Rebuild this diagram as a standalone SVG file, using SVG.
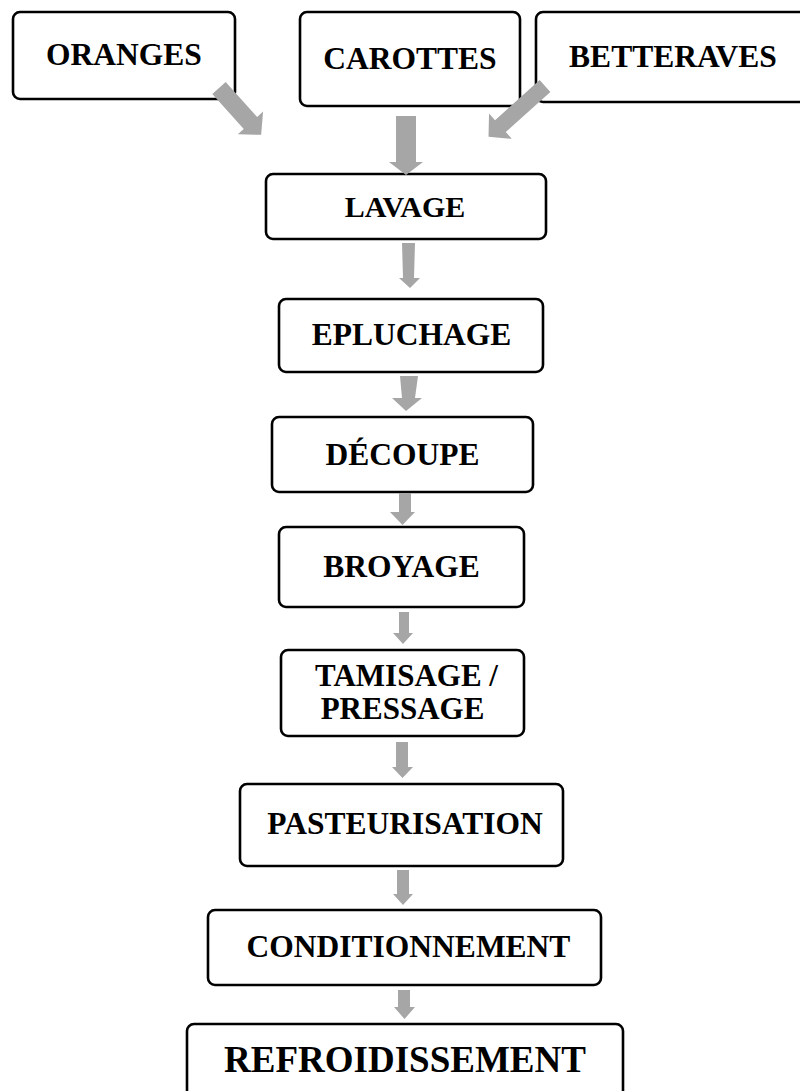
<svg xmlns="http://www.w3.org/2000/svg" width="800" height="1091" viewBox="0 0 800 1091">
<style>
.box{fill:#fff;stroke:#000;stroke-width:2.6}
.t{font-family:"Liberation Serif","Times New Roman",serif;font-weight:bold;font-size:31.5px;fill:#000;text-anchor:middle}
.arr{fill:#a6a6a6;stroke:none}
</style>
<rect width="800" height="1091" fill="#fff"/>
<g id="oranges"><rect class="box" x="13" y="12" width="222" height="87" rx="7"/><text class="t" x="124" y="65">ORANGES</text></g>
<g id="carottes"><rect class="box" x="300" y="12" width="220" height="94" rx="7"/><text class="t" x="410" y="69">CAROTTES</text></g>
<g id="betteraves"><rect class="box" x="536" y="12" width="280" height="90" rx="7"/><text class="t" x="673" y="67">BETTERAVES</text></g>
<g id="lavage"><rect class="box" x="266" y="174" width="280" height="65" rx="7"/><text class="t" x="405" y="217" style="font-size:30px">LAVAGE</text></g>
<g id="epluchage"><rect class="box" x="279" y="299" width="264" height="73" rx="7"/><text class="t" x="411.5" y="345">EPLUCHAGE</text></g>
<g id="decoupe"><rect class="box" x="272" y="417" width="261" height="75" rx="7"/><text class="t" x="402.5" y="465">DÉCOUPE</text></g>
<g id="broyage"><rect class="box" x="279" y="527" width="245" height="80" rx="7"/><text class="t" x="401.5" y="577">BROYAGE</text></g>
<g id="tamisage"><rect class="box" x="281" y="650" width="243" height="86" rx="7"/><text class="t" x="406.5" y="686" style="font-size:31px">TAMISAGE /</text><text class="t" x="402.5" y="719" style="font-size:31px">PRESSAGE</text></g>
<g id="pasteurisation"><rect class="box" x="240" y="784" width="323" height="82" rx="7"/><text class="t" x="405" y="834">PASTEURISATION</text></g>
<g id="conditionnement"><rect class="box" x="208" y="910" width="393" height="75" rx="7"/><text class="t" x="408.5" y="957">CONDITIONNEMENT</text></g>
<g id="refroidissement"><rect class="box" x="187" y="1024" width="436" height="90" rx="7"/><text class="t" x="405" y="1072" style="font-size:37px">REFROIDISSEMENT</text></g>
<g id="connectors">
<path class="arr" transform="translate(219,88) rotate(-42)" d="M-9 0 L9 0 L9 47 L17 47 L0 63 L-17 47 L-9 47 Z"/>
<path class="arr" transform="translate(545,86) rotate(48)" d="M-8 0 L8 0 L8 60 L17 60 L0 76 L-17 60 L-8 60 Z"/>
<path class="arr" d="M396 116 H416 V162 H423 L406 175 L389 162 H396 Z"/>
<path class="arr" d="M402 243 L415 243 L414 278 L420 278 L410 288 L399 278 L403 278 Z"/>
<path class="arr" d="M400 376 L418 376 L415 398 L422 398 L406 411 L392 398 L402 398 Z"/>
<path class="arr" d="M399 493 H411 V512 H415 L402.5 525 L390 512 H399 Z"/>
<path class="arr" d="M399 612 H409 V633 H413 L403 644 L393 633 H399 Z"/>
<path class="arr" d="M396 742 H408 V767 H413 L402.5 778 L392 767 H396 Z"/>
<path class="arr" d="M397 870 H409 V894 H413 L403 905 L393 894 H397 Z"/>
<path class="arr" d="M398 990 H410 V1007 H415 L404.5 1019 L394 1007 H398 Z"/>
</g>
</svg>
